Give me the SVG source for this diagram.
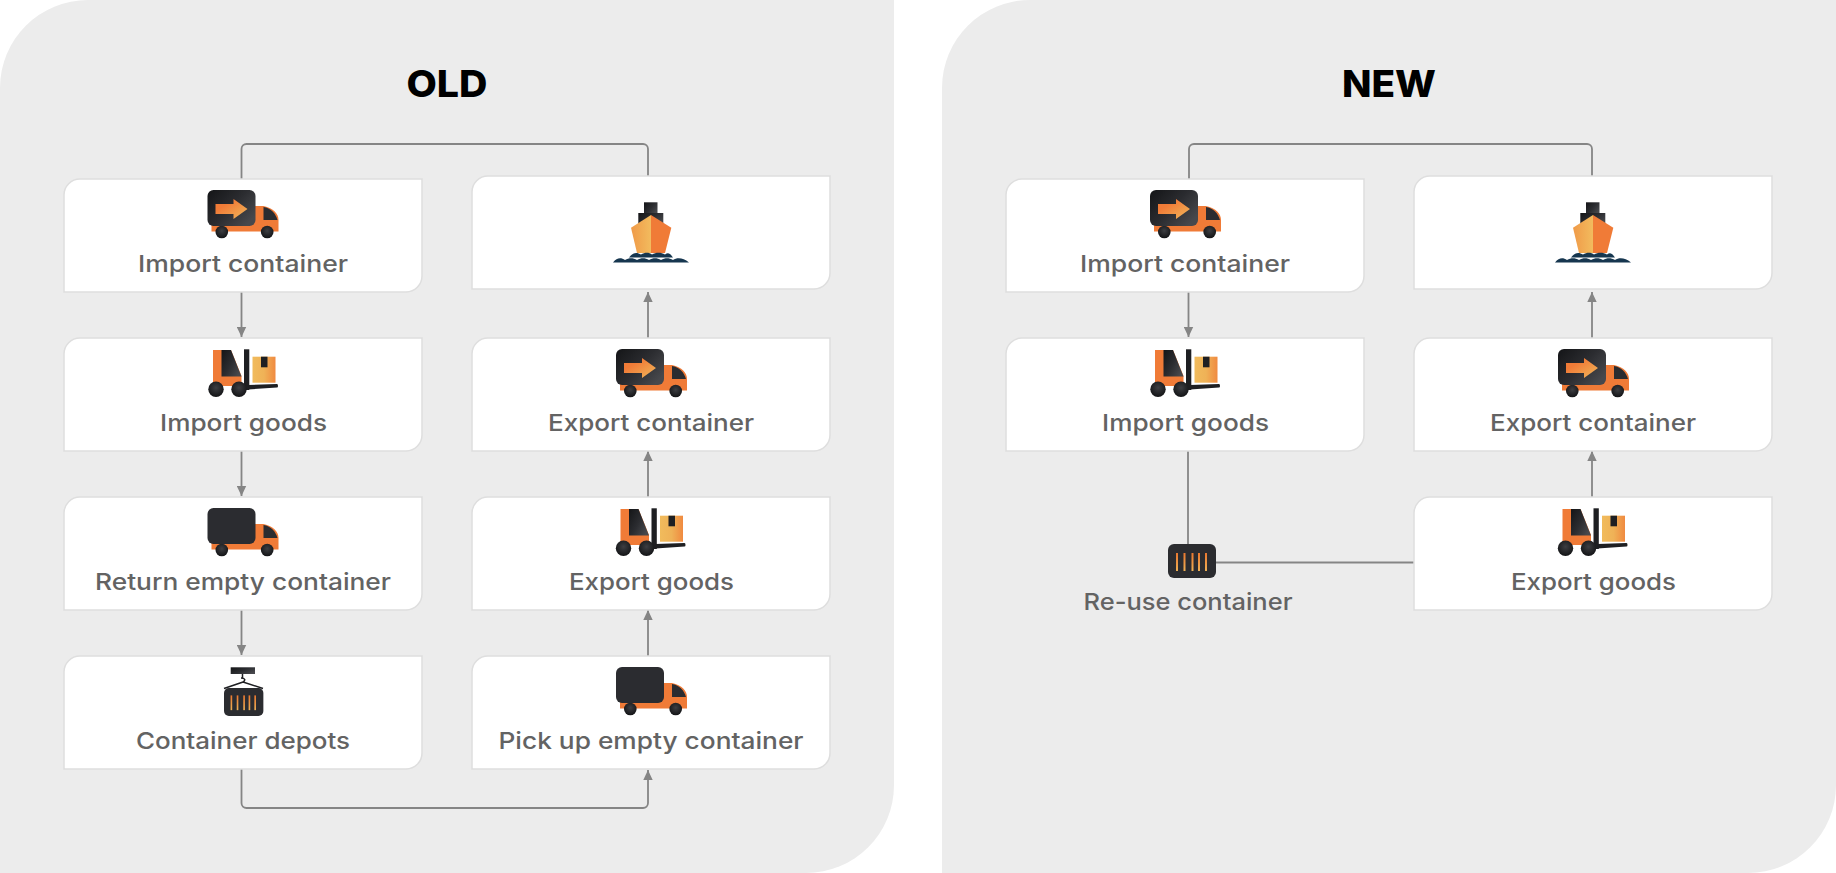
<svg xmlns="http://www.w3.org/2000/svg" xmlns:xlink="http://www.w3.org/1999/xlink" width="1836" height="873" viewBox="0 0 1836 873">
<style>
.panel{fill:#ececec}
.card{fill:#fff;stroke:#dedede;stroke-width:1.5}
.lbl{font-family:Inter,"Noto Sans","Liberation Sans",sans-serif;font-size:23.5px;font-weight:550;fill:#636363;text-anchor:middle}
.ttl{font-family:Inter,"Liberation Sans",sans-serif;font-size:37px;font-weight:800;fill:#000;text-anchor:middle}
.cn{fill:none;stroke:#858585;stroke-width:1.8}
.dark{fill:url(#gDark)}
.or{fill:#f07b37}
.wheel{fill:url(#gWheel)}
</style>
<defs>
<linearGradient id="gDark" x1="0" y1="0" x2="1" y2="0.7"><stop offset="0" stop-color="#141517"/><stop offset="0.55" stop-color="#2b2c30"/><stop offset="1" stop-color="#47484c"/></linearGradient>
<radialGradient id="gWheel" cx="0.5" cy="0.4" r="0.6"><stop offset="0" stop-color="#3d3e42"/><stop offset="1" stop-color="#131416"/></radialGradient>
<linearGradient id="gArrow" x1="0" y1="0" x2="1" y2="1"><stop offset="0.3" stop-color="#f07b37"/><stop offset="1" stop-color="#f1b95c"/></linearGradient>
<linearGradient id="gBox" x1="0" y1="0" x2="1" y2="0"><stop offset="0" stop-color="#f1bb5c"/><stop offset="0.5" stop-color="#efb257"/><stop offset="1" stop-color="#f08a40"/></linearGradient>
<linearGradient id="gHull" x1="0" y1="0" x2="1" y2="0"><stop offset="0" stop-color="#f09a48"/><stop offset="1" stop-color="#f2bb5e"/></linearGradient>
<linearGradient id="gBar" x1="0" y1="0" x2="0" y2="1"><stop offset="0" stop-color="#e9772f"/><stop offset="1" stop-color="#eeb055"/></linearGradient>
<marker id="arr" markerUnits="userSpaceOnUse" markerWidth="11" markerHeight="10" refX="10" refY="5" orient="auto"><path d="M0 0.3L10 5L0 9.7Z" fill="#858585"/></marker>
<g id="truckBase">
<path class="or" d="M47 16H56C66 18 71 24 71 30V41.500H4V30H47Z"/>
<path fill="#2b2c30" d="M56 17C63 18 68 23 70 30H56Z"/>
<circle class="wheel" cx="14.300" cy="42" r="6.300"/><circle class="wheel" cx="59.700" cy="42" r="6.300"/>
</g>
<g id="truckFull">
<use href="#truckBase"/>
<rect class="dark" width="48" height="36" rx="6"/>
<path fill="url(#gArrow)" d="M8 14H26V9L40 19L26 29V24H8Z"/>
</g>
<g id="truckEmpty">
<use href="#truckBase"/>
<rect fill="#2b2c30" width="48" height="36" rx="6"/>
</g>
<g id="fork">
<path class="or" d="M0 0H18L28.500 26V36H0Z"/>
<path class="dark" d="M8.500 0H18L28.500 26.500H8.500Z"/>
<rect fill="#1e1f22" x="31" y="-0.700" width="5.300" height="40.700"/>
<path fill="#1e1f22" d="M35 35L64 34Q65 34 65 36Q65 37.500 64 37.500L35 39.500Z"/>
<rect fill="url(#gBox)" x="39.500" y="6.700" width="23" height="26"/>
<rect fill="#1e1f22" x="48" y="6.700" width="6.500" height="10.600"/>
<circle class="wheel" cx="3" cy="39.300" r="7.700"/><circle class="wheel" cx="26" cy="39.300" r="7.700"/>
</g>
<g id="ship">
<rect class="dark" x="13" y="0.300" width="13.500" height="12"/>
<rect class="dark" x="7.300" y="11" width="25" height="12"/>
<path fill="url(#gHull)" d="M20 13L0 25.700L6 51H20Z"/>
<path class="or" d="M20 13L40.300 25.700L34 51H20Z"/>
<path fill="#16364f" d="M-2 55.500C2 50 6 50 10 52.500C14 50 18 50 21 52.500C25 50 30 50 34 52.500C37 50 39 51 42 55.500Z"/>
<path fill="#16364f" d="M-18 60.500C-14 55.500 -10 55.500 -6 58C-2 55.500 2 55.500 6 58C10 55.500 14 55.500 18 58C22 55.500 26 55.500 30 58C34 55.500 38 55.500 42 58C46 55.500 52 55.500 58 60.500Z"/>
</g>
<g id="box">
<rect fill="#2b2c30" width="48" height="34" rx="6"/>
<g fill="url(#gBar)"><rect x="8" y="9" width="2" height="18"/><rect x="15.500" y="9" width="2" height="18"/><rect x="23.500" y="9" width="2" height="18"/><rect x="30" y="9" width="2" height="18"/><rect x="37" y="9" width="2" height="18"/></g>
</g>
<path id="cardShape" d="M16 0H358V97A16 16 0 0 1 342 113H0V16A16 16 0 0 1 16 0Z"/>
</defs>

<path class="panel" d="M88 0H894V785A88 88 0 0 1 806 873H0V88A88 88 0 0 1 88 0Z"/>
<path class="panel" d="M1030 0H1836V785A88 88 0 0 1 1748 873H942V88A88 88 0 0 1 1030 0Z"/>
<text class="ttl" x="447" y="97" textLength="81" lengthAdjust="spacingAndGlyphs">OLD</text>
<text class="ttl" x="1389" y="97" textLength="94" lengthAdjust="spacingAndGlyphs">NEW</text>

<g id="connectors">
<path class="cn" d="M241.500 179V149A5 5 0 0 1 246.500 144H643A5 5 0 0 1 648 149V176"/>
<path class="cn" marker-end="url(#arr)" d="M241.500 292V337"/>
<path class="cn" marker-end="url(#arr)" d="M241.500 451V496"/>
<path class="cn" marker-end="url(#arr)" d="M241.500 610V655"/>
<path class="cn" marker-end="url(#arr)" d="M241.500 769V803A5 5 0 0 0 246.500 808H643A5 5 0 0 0 648 803V770"/>
<path class="cn" marker-end="url(#arr)" d="M648 656V610"/>
<path class="cn" marker-end="url(#arr)" d="M648 497V451"/>
<path class="cn" marker-end="url(#arr)" d="M648 338V292"/>
<path class="cn" d="M1189 179V149A5 5 0 0 1 1194 144H1587A5 5 0 0 1 1592 149V176"/>
<path class="cn" marker-end="url(#arr)" d="M1188.500 292V337"/>
<path class="cn" marker-end="url(#arr)" d="M1592 338V292"/>
<path class="cn" marker-end="url(#arr)" d="M1592 497V451"/>
<path class="cn" d="M1188 451V544"/>
<path class="cn" d="M1216 562.500H1414"/>
</g>

<g id="old-import-container"><use class="card" href="#cardShape" x="64" y="179"/><use href="#truckFull" x="207.500" y="190"/><text class="lbl" x="243" y="272" textLength="210" lengthAdjust="spacingAndGlyphs">Import container</text></g>
<g id="old-import-goods"><use class="card" href="#cardShape" x="64" y="338"/><use href="#fork" x="213" y="350"/><text class="lbl" x="243.500" y="431" textLength="167" lengthAdjust="spacingAndGlyphs">Import goods</text></g>
<g id="old-return-empty"><use class="card" href="#cardShape" x="64" y="497"/><use href="#truckEmpty" x="207.500" y="508"/><text class="lbl" x="243" y="590" textLength="296" lengthAdjust="spacingAndGlyphs">Return empty container</text></g>
<g id="old-depots"><use class="card" href="#cardShape" x="64" y="656"/>
<rect class="dark" x="230.700" y="667.300" width="24.300" height="6.700"/>
<path fill="none" stroke="#1e1f22" stroke-width="1.500" d="M242.500 674V678M241 678C245 678 246 680 243 682L224 688.500M243 682L263 688.500"/>
<use href="#box" transform="translate(224 688) scale(.82)"/>
<text class="lbl" x="243" y="749" textLength="214" lengthAdjust="spacingAndGlyphs">Container depots</text></g>
<g id="old-ship"><use class="card" href="#cardShape" x="472" y="176"/><use href="#ship" x="631" y="202"/></g>
<g id="old-export-container"><use class="card" href="#cardShape" x="472" y="338"/><use href="#truckFull" x="616" y="349"/><text class="lbl" x="651" y="431" textLength="206" lengthAdjust="spacingAndGlyphs">Export container</text></g>
<g id="old-export-goods"><use class="card" href="#cardShape" x="472" y="497"/><use href="#fork" x="620.500" y="509"/><text class="lbl" x="651.500" y="590" textLength="165" lengthAdjust="spacingAndGlyphs">Export goods</text></g>
<g id="old-pickup"><use class="card" href="#cardShape" x="472" y="656"/><use href="#truckEmpty" x="616" y="667"/><text class="lbl" x="651" y="749" textLength="305" lengthAdjust="spacingAndGlyphs">Pick up empty container</text></g>

<g id="new-import-container"><use class="card" href="#cardShape" x="1006" y="179"/><use href="#truckFull" x="1150" y="190"/><text class="lbl" x="1185" y="272" textLength="210" lengthAdjust="spacingAndGlyphs">Import container</text></g>
<g id="new-import-goods"><use class="card" href="#cardShape" x="1006" y="338"/><use href="#fork" x="1155" y="350"/><text class="lbl" x="1185.500" y="431" textLength="167" lengthAdjust="spacingAndGlyphs">Import goods</text></g>
<g id="new-reuse"><use href="#box" x="1168" y="544"/><text class="lbl" x="1188" y="610" textLength="209" lengthAdjust="spacingAndGlyphs">Re-use container</text></g>
<g id="new-ship"><use class="card" href="#cardShape" x="1414" y="176"/><use href="#ship" x="1573" y="202"/></g>
<g id="new-export-container"><use class="card" href="#cardShape" x="1414" y="338"/><use href="#truckFull" x="1558" y="349"/><text class="lbl" x="1593" y="431" textLength="206" lengthAdjust="spacingAndGlyphs">Export container</text></g>
<g id="new-export-goods"><use class="card" href="#cardShape" x="1414" y="497"/><use href="#fork" x="1562.500" y="509"/><text class="lbl" x="1593.500" y="590" textLength="165" lengthAdjust="spacingAndGlyphs">Export goods</text></g>
</svg>
